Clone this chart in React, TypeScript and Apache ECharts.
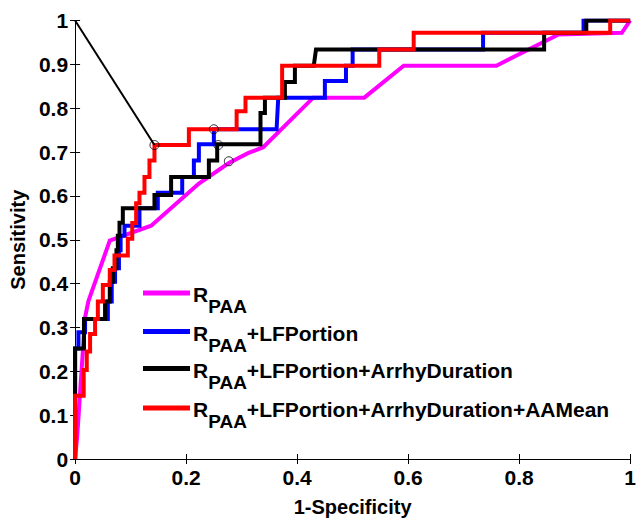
import React, { useEffect, useRef } from "react";
import * as echarts from "echarts";

// ROC curves: [1-Specificity, Sensitivity]
const rpaa: number[][] = [
  [0, 0], [0.004, 0.055], [0.018, 0.323], [0.024, 0.36], [0.0625, 0.498], [0.137, 0.532],
  [0.223, 0.628], [0.277, 0.675], [0.3125, 0.698], [0.339, 0.711], [0.429, 0.824],
  [0.521, 0.824], [0.592, 0.897], [0.759, 0.897], [0.871, 0.968], [0.985, 0.972], [1, 1],
];

const rpaaLF: number[][] = [
  [0, 0], [0, 0.252], [0.006, 0.252], [0.006, 0.289], [0.018, 0.289], [0.018, 0.319],
  [0.059, 0.319], [0.059, 0.359], [0.066, 0.359], [0.066, 0.404], [0.072, 0.404],
  [0.072, 0.435], [0.079, 0.435], [0.079, 0.476], [0.082, 0.476], [0.082, 0.509],
  [0.089, 0.509], [0.089, 0.532], [0.116, 0.532], [0.116, 0.572], [0.149, 0.572],
  [0.149, 0.607], [0.193, 0.607], [0.193, 0.643], [0.214, 0.643], [0.214, 0.681],
  [0.223, 0.681], [0.223, 0.718], [0.25, 0.718], [0.25, 0.752], [0.363, 0.752],
  [0.366, 0.824], [0.45, 0.824], [0.45, 0.862], [0.488, 0.862], [0.488, 0.897],
  [0.5, 0.897], [0.5, 0.934], [0.735, 0.934], [0.735, 0.972], [0.916, 0.972],
  [0.916, 1], [1, 1],
];

const rpaaLFAD: number[][] = [
  [0, 0], [0, 0.252], [0.016, 0.252], [0.016, 0.319], [0.054, 0.319], [0.054, 0.359],
  [0.0625, 0.359], [0.0625, 0.404], [0.068, 0.404], [0.068, 0.435], [0.0745, 0.435],
  [0.0745, 0.476], [0.077, 0.476], [0.077, 0.509], [0.08, 0.509], [0.08, 0.539],
  [0.086, 0.539], [0.086, 0.572], [0.143, 0.572], [0.143, 0.602], [0.173, 0.602],
  [0.173, 0.643], [0.241, 0.643], [0.241, 0.681], [0.256, 0.681], [0.256, 0.718],
  [0.334, 0.718], [0.334, 0.789], [0.342, 0.789], [0.342, 0.824], [0.378, 0.824],
  [0.378, 0.86], [0.396, 0.86], [0.396, 0.897], [0.43, 0.897], [0.434, 0.934],
  [0.845, 0.934], [0.845, 0.972], [0.921, 0.972], [0.921, 1], [1, 1],
];

const rpaaLFADAA: number[][] = [
  [0, 0], [0, 0.144], [0.0155, 0.144], [0.0155, 0.203], [0.021, 0.203], [0.021, 0.245],
  [0.027, 0.245], [0.027, 0.285], [0.036, 0.285], [0.036, 0.319], [0.041, 0.319],
  [0.041, 0.359], [0.05, 0.359], [0.05, 0.397], [0.0625, 0.397], [0.0625, 0.431],
  [0.071, 0.431], [0.071, 0.464], [0.095, 0.464], [0.095, 0.502], [0.103, 0.502],
  [0.103, 0.538], [0.11, 0.538], [0.11, 0.583], [0.116, 0.583], [0.116, 0.607],
  [0.125, 0.607], [0.125, 0.643], [0.134, 0.643], [0.134, 0.681], [0.143, 0.681],
  [0.143, 0.716], [0.205, 0.716], [0.205, 0.752], [0.291, 0.752], [0.291, 0.793],
  [0.307, 0.793], [0.307, 0.824], [0.373, 0.824], [0.373, 0.897], [0.548, 0.897],
  [0.548, 0.934], [0.61, 0.934], [0.61, 0.972], [0.964, 0.972], [0.964, 1], [1, 1],
];

const diagLine: number[][] = [[0, 1], [0.143, 0.716]];

const operatingPoints: number[][] = [
  [0.143, 0.716], [0.25, 0.752], [0.258, 0.716], [0.277, 0.679],
];

const legendBase = "R";
const legendSub = "PAA";
const legendSuffixes = ["", "+LFPortion", "+LFPortion+ArrhyDuration", "+LFPortion+ArrhyDuration+AAMean"];
const colors = ["#ff00ff", "#0000ff", "#000000", "#ff0000"];

const FONT_NAME = "Liberation Sans";
const FONT = "Liberation Sans, Arial, sans-serif";
const MAIN_SIZE = 21;
const SUB_SIZE = 19;

function measure(text: string, size: number): number {
  const c = document.createElement("canvas").getContext("2d");
  if (!c) return text.length * size * 0.6;
  c.font = `bold ${size}px "${FONT_NAME}"`;
  return c.measureText(text).width;
}

export default function App() {
  const ref = useRef<HTMLDivElement>(null);
  useEffect(() => {
    document.body.style.margin = "0";
    const chart = echarts.init(ref.current!, undefined, { renderer: "svg" });
    const lineYs = [293, 331.5, 368.5, 408];
    const legendGraphics: any[] = [];
    const wR = measure(legendBase, MAIN_SIZE);
    const wSub = measure(legendSub, SUB_SIZE);
    const textX = 193;
    legendSuffixes.forEach((suf, i) => {
      const y0 = lineYs[i] - 9;
      legendGraphics.push({
        type: "line",
        shape: { x1: 143, y1: lineYs[i], x2: 190, y2: lineYs[i] },
        style: { stroke: colors[i], lineWidth: 5 },
        z: 100,
      });
      legendGraphics.push({
        type: "text", x: textX, y: y0, z: 100,
        style: { text: legendBase, fill: "#000", font: `bold ${MAIN_SIZE}px ${FONT}`, verticalAlign: "top" },
      });
      legendGraphics.push({
        type: "text", x: textX + wR, y: y0 + 13, z: 100,
        style: { text: legendSub, fill: "#000", font: `bold ${SUB_SIZE}px ${FONT}`, verticalAlign: "top" },
      });
      if (suf) {
        legendGraphics.push({
          type: "text", x: textX + wR + wSub, y: y0, z: 100,
          style: { text: suf, fill: "#000", font: `bold ${MAIN_SIZE}px ${FONT}`, verticalAlign: "top" },
        });
      }
    });

    const mkLine = (data: number[][], color: string, width: number, z: number) => ({
      type: "line",
      data,
      showSymbol: false,
      symbol: "none",
      lineStyle: { color, width, cap: "butt", join: "miter" },
      itemStyle: { color },
      z,
      silent: true,
    });

    chart.setOption({
      animation: false,
      backgroundColor: "#fff",
      grid: { left: 75, right: 4, top: 20.5, bottom: 54.5, containLabel: false },
      xAxis: [
        {
          type: "value", min: 0, max: 1, interval: 0.2,
          axisLine: { show: true, lineStyle: { color: "#000", width: 1 } },
          axisTick: { show: true, inside: true, length: 5, lineStyle: { color: "#000" } },
          splitLine: { show: false },
          axisLabel: { color: "#000", fontSize: 21, fontWeight: "bold", fontFamily: FONT, margin: 8 },
          name: "1-Specificity", nameLocation: "middle", nameGap: 38,
          nameTextStyle: { color: "#000", fontSize: 20, fontWeight: "bold", fontFamily: FONT },
        },
        {
          type: "value", min: 0, max: 1, interval: 0.2, position: "top",
          axisLine: { show: true, lineStyle: { color: "#000", width: 1 } },
          axisTick: { show: true, inside: true, length: 5, lineStyle: { color: "#000" } },
          splitLine: { show: false }, axisLabel: { show: false },
        },
      ],
      yAxis: [
        {
          type: "value", min: 0, max: 1, interval: 0.1,
          axisLine: { show: true, lineStyle: { color: "#000", width: 1 } },
          axisTick: { show: true, inside: true, length: 5, lineStyle: { color: "#000" } },
          splitLine: { show: false },
          axisLabel: { color: "#000", fontSize: 21, fontWeight: "bold", fontFamily: FONT, margin: 7 },
          name: "Sensitivity", nameLocation: "middle", nameGap: 42, nameRotate: 90,
          nameTextStyle: { color: "#000", fontSize: 20, fontWeight: "bold", fontFamily: FONT },
        },
        {
          type: "value", min: 0, max: 1, interval: 0.1, position: "right",
          axisLine: { show: true, lineStyle: { color: "#000", width: 1 } },
          axisTick: { show: true, inside: true, length: 5, lineStyle: { color: "#000" } },
          splitLine: { show: false }, axisLabel: { show: false },
        },
      ],
      series: [
        mkLine(rpaa, colors[0], 4, 2),
        mkLine(rpaaLF, colors[1], 4, 3),
        mkLine(rpaaLFAD, colors[2], 4, 4),
        mkLine(rpaaLFADAA, colors[3], 4, 5),
        mkLine(diagLine, "#000", 2, 6),
        {
          type: "scatter",
          data: operatingPoints,
          symbol: "circle",
          symbolSize: 9,
          itemStyle: { color: "rgba(0,0,0,0)", borderColor: "#000", borderWidth: 1 },
          z: 7,
          silent: true,
        },
      ],
      graphic: legendGraphics,
    });
    return () => chart.dispose();
  }, []);
  return <div ref={ref} style={{ width: 639, height: 522 }} />;
}
